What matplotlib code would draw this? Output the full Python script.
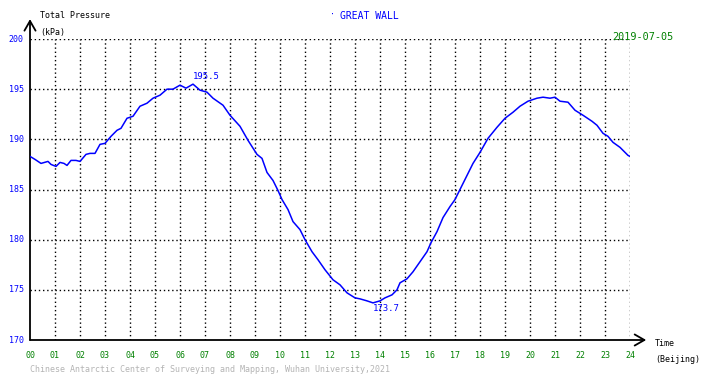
import matplotlib
matplotlib.use("Agg")
import matplotlib.pyplot as plt
import numpy as np

# total pressure at Great Wall station
hours = [
    0.0, 0.2, 0.44, 0.72, 0.84, 1.04, 1.2, 1.36, 1.48, 1.64, 1.84, 2.0,
    2.24, 2.4, 2.6, 2.8, 3.0, 3.24, 3.48, 3.64, 3.88, 4.12, 4.4, 4.68,
    4.92, 5.2, 5.48, 5.72, 6.0, 6.24, 6.52, 6.8, 7.08, 7.32, 7.72, 8.0,
    8.4, 8.72, 9.08, 9.28, 9.48, 9.72, 9.92, 10.08, 10.32, 10.52, 10.8, 11.0,
    11.28, 11.52, 11.8, 12.12, 12.4, 12.68, 13.0, 13.2, 13.48, 13.72, 14.0, 14.2,
    14.48, 14.68, 14.8, 15.08, 15.32, 15.6, 15.88, 16.04, 16.28, 16.52, 16.8, 17.0,
    17.48, 17.72, 18.0, 18.32, 18.68, 19.0, 19.32, 19.6, 19.92, 20.28, 20.52, 20.8,
    21.0, 21.2, 21.52, 21.8, 22.12, 22.48, 22.68, 22.92, 23.12, 23.32, 23.6, 23.92,
    24.0,
]
pressure = [
    188.3, 188.0, 187.6, 187.8, 187.5, 187.3, 187.7, 187.6, 187.4, 187.9, 187.9, 187.8,
    188.5, 188.6, 188.6, 189.5, 189.6, 190.3, 190.9, 191.1, 192.1, 192.3, 193.3, 193.6,
    194.1, 194.4, 195.0, 195.0, 195.4, 195.1, 195.5, 194.9, 194.7, 194.1, 193.4, 192.4,
    191.3, 189.9, 188.5, 188.1, 186.7, 185.9, 184.9, 184.0, 183.0, 181.8, 181.0, 180.0,
    178.8, 178.0, 177.0, 176.0, 175.5, 174.7, 174.2, 174.1, 173.9, 173.7, 173.9, 174.2,
    174.5, 175.0, 175.7, 176.1, 176.8, 177.8, 178.8, 179.7, 180.8, 182.2, 183.3, 184.0,
    186.4, 187.6, 188.7, 190.1, 191.2, 192.1, 192.7, 193.3, 193.8, 194.1, 194.2, 194.1,
    194.2, 193.8, 193.7, 192.9, 192.4, 191.8, 191.4, 190.6, 190.3, 189.7, 189.2, 188.4,
    188.3,
]
y_ticks = [170, 175, 180, 185, 190, 195, 200]
x_ticks = list(range(25))
station = "GREAT WALL"
date_str = "2019-07-05"
footer = "Chinese Antarctic Center of Surveying and Mapping, Wuhan University,2021"

BLUE = "#0000ff"
GREEN = "#008000"
MONO = "DejaVu Sans Mono"

W, H = 710, 378
fig = plt.figure(figsize=(W / 100, H / 100), dpi=100)
fig.patch.set_facecolor("white")

# axes box in pixel terms: x 30..630, y 39..340
ax = fig.add_axes([30 / W, (H - 340) / H, 600 / W, 301 / H])
ax.set_xlim(0, 24)
ax.set_ylim(170, 200)
for s in ax.spines.values():
    s.set_visible(False)
ax.set_xticks([])
ax.set_yticks([])

# dotted grid
dots = (0, (1, 2))
for h in x_ticks[1:]:
    ax.plot([h, h], [170, 200], color="black", lw=1, ls=dots, zorder=1)
for v in y_ticks[1:]:
    ax.plot([0, 24], [v, v], color="black", lw=1, ls=dots, zorder=1)

# axis lines with open arrow heads
arrow = dict(arrowstyle="->,head_length=0.7,head_width=0.4", color="black", lw=1.3,
             shrinkA=0, shrinkB=0)
ax.annotate("", xy=(0, 1.066), xytext=(0, 0), xycoords="axes fraction",
            arrowprops=arrow, annotation_clip=False)
ax.annotate("", xy=(1.027, 0), xytext=(0, 0), xycoords="axes fraction",
            arrowprops=arrow, annotation_clip=False)

ax.plot(hours, pressure, color=BLUE, lw=1.1, zorder=3)

# extreme values
p = np.array(pressure)
i_max, i_min = int(p.argmax()), int(p.argmin())
ax.annotate(f"{p[i_max]:.1f}", (hours[i_max], p[i_max]), xytext=(0, 2),
            textcoords="offset points", color=BLUE, fontsize=6.5, family=MONO,
            ha="left", va="bottom")
ax.annotate(f"{p[i_min]:.1f}", (hours[i_min], p[i_min]), xytext=(0, -1),
            textcoords="offset points", color=BLUE, fontsize=6.5, family=MONO,
            ha="left", va="top")

# tick labels
for v in y_ticks:
    ax.text(-0.25, v, str(v), color=BLUE, fontsize=6, family=MONO,
            ha="right", va="center", clip_on=False)
for h in x_ticks:
    ax.text(h, 168.9, f"{h:02d}", color=GREEN, fontsize=6, family=MONO,
            ha="center", va="top", clip_on=False)

# titles and labels in figure pixels
def px(x, y, s, **kw):
    fig.text(x / W, 1 - y / H, s, family=MONO, **kw)

px(40, 16, "Total Pressure", fontsize=6, color="black", va="center")
px(40, 33, "(kPa)", fontsize=6, color="black", va="center")
px(330, 15, "\u00b7", fontsize=6, color=BLUE, va="center")
px(340, 16, station, fontsize=7, color=BLUE, va="center")
px(612, 37, date_str, fontsize=7.3, color=GREEN, va="center")
px(655, 344, "Time", fontsize=6, color="black", va="center")
px(655, 360, "(Beijing)", fontsize=6, color="black", va="center")
px(30, 370, footer, fontsize=6, color="#b4b4b4", va="center")

fig.savefig("out.png", dpi=100, facecolor="white")
